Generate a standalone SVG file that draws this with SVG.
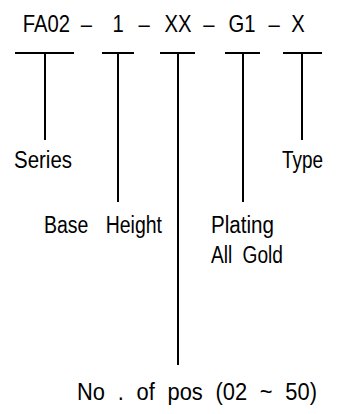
<svg xmlns="http://www.w3.org/2000/svg" width="338" height="414" viewBox="0 0 338 414">
<style>
text{font-family:"Liberation Sans",Arial,sans-serif;font-size:23px;fill:#000}
.c line{stroke:#000;stroke-width:2}
</style>
<rect width="338" height="414" fill="#fff"/>
<g id="code">
<text transform="scale(0.88 1)" y="32"><tspan x="25.9">FA02</tspan> <tspan x="91.9">–</tspan> <tspan x="127.7">1</tspan> <tspan x="157.3">–</tspan> <tspan x="186.9">XX</tspan> <tspan x="231.1">–</tspan> <tspan x="259.7">G1</tspan> <tspan x="305">–</tspan> <tspan x="331">X</tspan></text>
</g>
<g class="c" id="connectors">
<line x1="15" y1="53" x2="74" y2="53"/><line x1="45" y1="53" x2="45" y2="140"/>
<line x1="102" y1="53" x2="134" y2="53"/><line x1="118" y1="53" x2="118" y2="202"/>
<line x1="160" y1="53" x2="195" y2="53"/><line x1="178" y1="53" x2="178" y2="365"/>
<line x1="225" y1="53" x2="260" y2="53"/><line x1="243" y1="53" x2="243" y2="202"/>
<line x1="283" y1="53" x2="322" y2="53"/><line x1="302" y1="53" x2="302" y2="140"/>
</g>
<g id="series"><text x="14" y="168" textLength="58" lengthAdjust="spacingAndGlyphs">Series</text></g>
<g id="type"><text x="282" y="168" textLength="41" lengthAdjust="spacingAndGlyphs">Type</text></g>
<g id="base-height"><text x="44" y="233" word-spacing="14" textLength="118" lengthAdjust="spacingAndGlyphs">Base Height</text></g>
<g id="plating"><text x="211" y="233" textLength="63" lengthAdjust="spacingAndGlyphs">Plating</text><text x="211" y="263" word-spacing="6" textLength="72" lengthAdjust="spacingAndGlyphs">All Gold</text></g>
<g id="pos"><text x="77" y="400" word-spacing="7" textLength="240" lengthAdjust="spacingAndGlyphs">No . of pos (02 ~ 50)</text></g>
</svg>
